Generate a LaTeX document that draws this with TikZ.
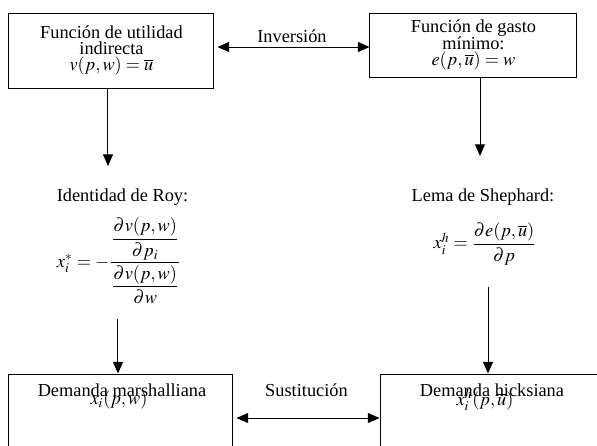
\documentclass[tikz,border=0pt]{standalone}
\usepackage{amsmath}
\usepackage{mathptmx}
\usepackage{fontspec}
\setmainfont{Liberation Serif}
\usetikzlibrary{arrows.meta,positioning}
\setlength{\lineskiplimit}{-6pt}

\begin{document}
\begin{tikzpicture}[
  x=0.6pt, y=-0.6pt, line width=0.6pt,
  >={Triangle[length=7pt,width=6pt]},
  funcbox/.style={draw, fill=white, align=center, inner sep=0pt,
    font=\fontsize{11}{9.8}\selectfont},
  demandbox/.style={draw, inner sep=0pt},
  plain/.style={inner sep=0pt, font=\fontsize{11}{13}\selectfont}
]
  \useasboundingbox (0,0) rectangle (597,445);
  \clip (0,0) rectangle (597,445);

  % upper boxes
  \node[funcbox, minimum width=205*0.6pt, minimum height=75*0.6pt] (indirecta) at (111.5,50.5)
    {Funci\'on de utilidad\\indirecta\\$v(p,w)=\overline{u}$};
  \node[funcbox, minimum width=207*0.6pt, minimum height=64*0.6pt] (gasto) at (473.5,45)
    {Funci\'on de gasto\\m\'inimo:\\$e(p,\overline{u})=w$};

  % lower boxes
  \node[demandbox, minimum width=224*0.6pt, minimum height=88*0.6pt] (marshall) at (121,418) {};
  \node[demandbox, minimum width=224*0.6pt, minimum height=88*0.6pt] (hicks) at (492,418) {};
  \node[plain] (marshtxt) at (122,390) {Demanda marshalliana};
  \node[plain] (marshx) at (119,400) {$x_i(p,w)$};
  \node[plain] (hickstxt) at (492,390) {Demanda hicksiana};
  \node[plain] (hicksx) at (485,400) {$x_i^{h}(p,\overline{u})$};

  % identities
  \node[plain] (roy) at (122.5,197) {Identidad de Roy:};
  \node[plain] (royeq) at (119,261)
    {$x_i^{*}=-\dfrac{\dfrac{\partial v(p,w)}{\partial p_i}}{\dfrac{\partial v(p,w)}{\partial w}}$};
  \node[plain] (shephard) at (483,197) {Lema de Shephard:};
  \node[plain] (shepeq) at (485,244)
    {$x_i^{h}=\dfrac{\partial e(p,\overline{u})}{\partial p}$};

  \coordinate (royin) at (108,166);
  \coordinate (royout) at (118,319);
  \coordinate (shepin) at (480,156);
  \coordinate (shepout) at (488,287);

  \draw[->] (indirecta.south -| royin) -- (royin);
  \draw[->] (royout) -- (royout |- marshall.north);
  \draw[->] (gasto.south -| shepin) -- (shepin);
  \draw[->] (shepout) -- (shepout |- hicks.north);

  \draw[<->, shorten <=1.8pt] (indirecta.east |- 0,47) -- node[plain, above=2.4pt] {Inversi\'on} (gasto.west |- 0,47);
  \draw[<->, shorten <=1.8pt] (marshall.east) -- node[plain, above=12.5pt] {Sustituci\'on} (hicks.west);
\end{tikzpicture}
\end{document}
